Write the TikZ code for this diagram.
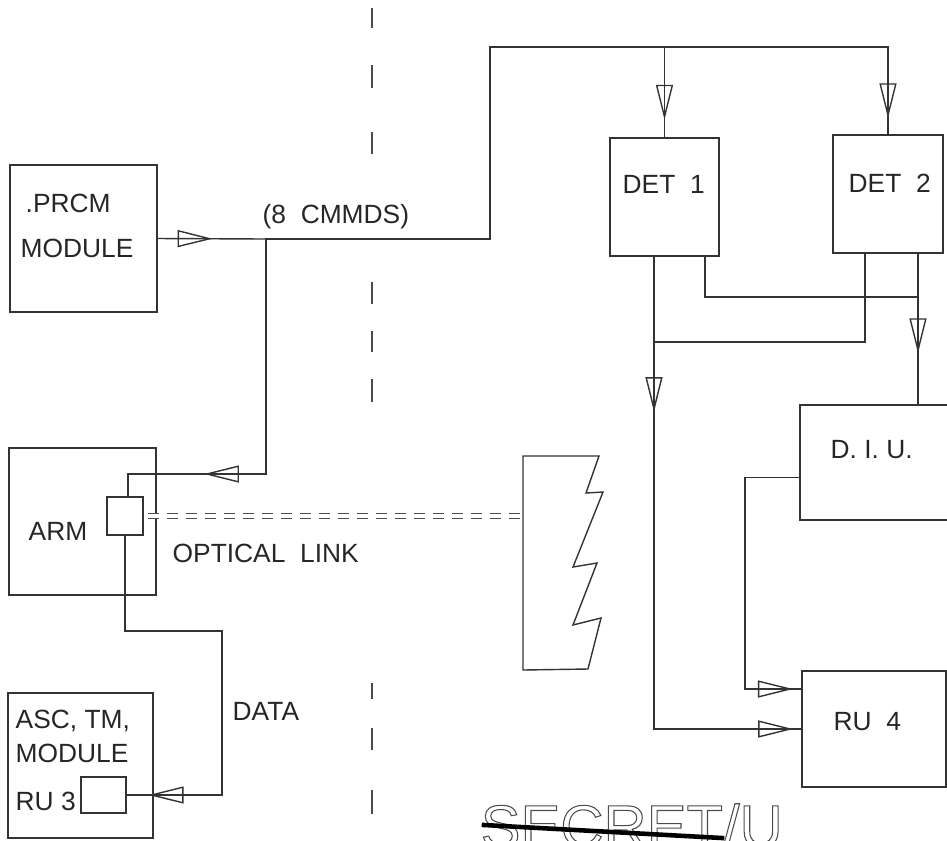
\documentclass[tikz,border=0pt]{standalone}
\usepackage{fontspec}
\setmainfont{Liberation Sans}
\usetikzlibrary{arrows.meta, decorations.markings}

\tikzset{
  blk/.style={draw, inner sep=0pt, outer sep=0pt},
  lbl/.style={anchor=base west, inner sep=0pt, text=black!85,
    font=\fontsize{15}{18}\selectfont},
  flow/.style={postaction={decorate}, decoration={markings,
    mark=at position #1 with {\arrow{Triangle[open, length=0.7cm, width=0.34cm]}}}},
  optic/.style={draw=black!70, line width=0.6pt, line cap=butt, double=white,
    double distance=0.08cm, dash pattern=on 0.22cm off 0.16cm},
  midline/.style={draw=black!70, line width=0.6pt, line cap=butt},
}

\begin{document}
\begin{tikzpicture}[x=0.02cm, y=-0.02cm, line width=0.8pt, draw=black!80, line cap=rect]
  \useasboundingbox (0,0) rectangle (947,840);

  % blocks
  \node[blk, minimum width=2.94cm, minimum height=2.94cm] (prcm) at (83.5,238.5) {};
  \node[blk, minimum width=2.94cm, minimum height=2.94cm] (arm) at (82.5,521.5) {};
  \node[blk, minimum width=0.72cm, minimum height=0.76cm] (armport) at (125,516) {};
  \node[blk, minimum width=2.9cm, minimum height=2.9cm] (asc) at (80.5,765.5) {};
  \node[blk, minimum width=0.9cm, minimum height=0.72cm] (ascport) at (103.5,795) {};
  \node[blk, minimum width=2.18cm, minimum height=2.36cm] (det1) at (664.5,197) {};
  \node[blk, minimum width=2.2cm, minimum height=2.36cm] (det2) at (888,194) {};
  \node[blk, draw=none, minimum width=2.94cm, minimum height=2.3cm] (diu) at (873.5,462.5) {};
  \draw (diu.north east) -- (diu.north west) -- (diu.south west) -- (diu.south east);
  \node[blk, minimum width=2.88cm, minimum height=2.32cm] (ru4) at (874,729) {};

  % texts
  \node[lbl] (prcmtxt) at (25,212) {.PRCM};
  \node[lbl] (prcmtxtb) at (20,257) {MODULE};
  \node[lbl] (armtxt) at (28,540) {ARM};
  \node[lbl] (asctxt) at (15,728) {ASC, TM,};
  \node[lbl] (asctxtb) at (15,762) {MODULE};
  \node[lbl] (asctxtc) at (15,810) {RU 3};
  \node[lbl] (det1txt) at (622,193) {DET\ \ 1};
  \node[lbl] (det2txt) at (848,192) {DET\ \ 2};
  \node[lbl] (diutxt) at (830,458) {D. I. U.};
  \node[lbl] (ru4txt) at (833,730) {RU\ \ 4};
  \node[lbl] (cmdtxt) at (262,223) {(8\ \ CMMDS)};
  \node[lbl] (optxt) at (172,562) {OPTICAL\ \ LINK};
  \node[lbl] (datatxt) at (232,720) {DATA};

  % middle dashed line
  \foreach \a/\b in {8/28, 65/88, 132/154, 282/304, 331/352, 379/402, 683/699, 728/750, 790/814}
    \draw[midline] (372,\a) -- (372,\b);

  % command lines
  \coordinate (split) at (266,239);
  \coordinate (bus) at (490,47);
  \draw[flow=0.51] (prcm.east) -- (split);
  \draw (split) -- (490,239) -- (bus) -- (det2.north |- bus);
  \draw[flow=0.80] (det1.north |- bus) -- (det1.north);
  \draw[flow=0.81] (det2.north |- bus) -- (det2.north);
  \draw[flow=0.75] (split) -- (266,474) -- (128,474) -- (128,497);

  % data to RU 3
  \coordinate (datacorner) at (222,631);
  \draw[flow=0.95] (armport.south) |- (datacorner) |- (ascport.east);

  % detector outputs
  \coordinate (d1out) at ([xshift=-0.21cm]det1.south);
  \coordinate (d2r) at ([xshift=0.6cm]det2.south);
  \draw[flow=0.33] (d1out) -- (d1out |- ru4.west) coordinate (d1low);
  \draw[flow=0.94] (d1low) -- (ru4.west);
  \draw ([xshift=-0.46cm]det2.south) |- (d1out |- 0,342);
  \draw ([xshift=0.81cm]det1.south) |- (d2r |- 0,297);
  \draw[flow=0.66] (d2r) -- (d2r |- diu.north);
  \draw[flow=0.972] ([yshift=-0.3cm]diu.west) -- ++(-55,0) |- ([yshift=-0.36cm]ru4.north west);

  % broken-off block and optical link
  \draw (523,456) coordinate (jagnw) -- (599,456) -- (586,493) -- (603,492) -- (573,567)
    -- (597,563) -- (573,625) -- (601,618) -- (588,669) -- (523,670) -- cycle;
  \draw[optic] ([xshift=0.1cm]armport.east) -- (armport.east -| jagnw);

  % stamp
  \begin{scope}
    \clip (0,0) rectangle (947,840);
    \node[anchor=base west, inner sep=0pt, text=black!70,
      font=\fontsize{34}{40}\selectfont] (stamp) at (480,847)
      {\special{pdf:code q 1 Tr 0.6 w}SECRET/U\special{pdf:code Q}};
    \draw[line width=2.6pt, draw=black] (484,825) -- (722,838);
  \end{scope}
\end{tikzpicture}
\end{document}
